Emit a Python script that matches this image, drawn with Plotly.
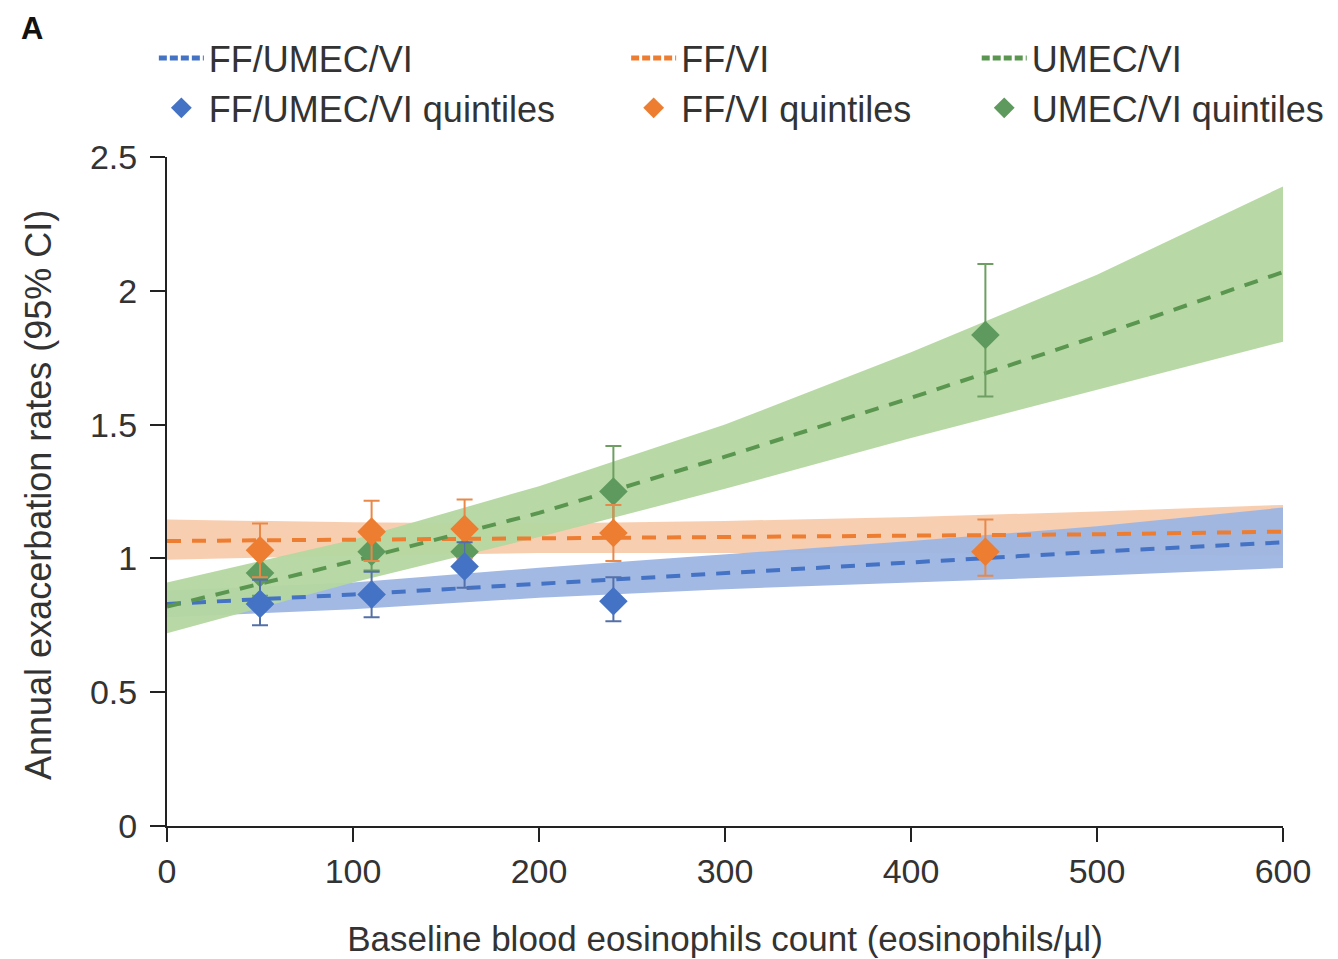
import plotly.graph_objects as go

# ---------------- data ----------------
curve_x = [0, 100, 200, 300, 400, 500, 600]

blue_fit = [0.83, 0.865, 0.905, 0.945, 0.985, 1.025, 1.06]
blue_lo = [0.78, 0.81, 0.853, 0.885, 0.91, 0.935, 0.964]
blue_hi = [0.88, 0.91, 0.965, 1.015, 1.065, 1.12, 1.19]

orange_fit = [1.065, 1.07, 1.075, 1.08, 1.085, 1.09, 1.10]
orange_lo = [0.995, 1.01, 1.02, 1.02, 1.02, 1.015, 1.01]
orange_hi = [1.145, 1.135, 1.13, 1.14, 1.155, 1.175, 1.20]

green_fit = [0.82, 0.99, 1.17, 1.38, 1.60, 1.83, 2.07]
green_lo = [0.72, 0.91, 1.08, 1.26, 1.45, 1.63, 1.81]
green_hi = [0.91, 1.07, 1.27, 1.50, 1.77, 2.06, 2.39]

blue_qx = [50, 110, 160, 240]
blue_qy = [0.83, 0.865, 0.97, 0.84]
blue_qlo = [0.75, 0.78, 0.89, 0.765]
blue_qhi = [0.92, 0.95, 1.06, 0.93]

orange_qx = [50, 110, 160, 240, 440]
orange_qy = [1.03, 1.10, 1.11, 1.095, 1.025]
orange_qlo = [0.93, 0.99, 1.00, 0.99, 0.935]
orange_qhi = [1.13, 1.215, 1.22, 1.20, 1.145]

green_qx = [50, 110, 160, 240, 440]
green_qy = [0.945, 1.025, 1.025, 1.25, 1.835]
green_qlo = [0.86, 0.955, 0.955, 1.10, 1.605]
green_qhi = [1.04, 1.10, 1.10, 1.42, 2.10]

x_ticks = [0, 100, 200, 300, 400, 500, 600]
y_ticks = [0, 0.5, 1, 1.5, 2, 2.5]
y_tick_text = ["0", "0.5", "1", "1.5", "2", "2.5"]

# ---------------- styles ----------------
C_BLUE = "#4472C4"
C_ORANGE = "#ED7D31"
C_GREEN_LINE = "#5B9650"
C_GREEN_MK = "#5E9A5E"
BAND = {
    "orange": "rgba(248,203,173,0.95)",
    "blue": "rgba(157,181,227,0.95)",
    "green": "rgba(180,215,160,0.95)",
}
FONT = "Liberation Sans, Arial, sans-serif"
TXT = "#333333"
DASH = "14px,11px"
LEG_DASH = "8px,3px"

fig = go.Figure()

# confidence bands
for key, lo, hi in [("orange", orange_lo, orange_hi),
                    ("blue", blue_lo, blue_hi),
                    ("green", green_lo, green_hi)]:
    fig.add_trace(go.Scatter(x=curve_x, y=hi, mode="lines", line=dict(width=0),
                             showlegend=False, hoverinfo="skip"))
    fig.add_trace(go.Scatter(x=curve_x, y=lo, mode="lines", line=dict(width=0),
                             fill="tonexty", fillcolor=BAND[key],
                             showlegend=False, hoverinfo="skip"))

# fitted lines (drawn) + legend-only entries with a compact dash pattern
for name, fit, color, leg in [("FF/UMEC/VI", blue_fit, C_BLUE, "legend"),
                              ("FF/VI", orange_fit, C_ORANGE, "legend2"),
                              ("UMEC/VI", green_fit, C_GREEN_LINE, "legend3")]:
    fig.add_trace(go.Scatter(x=curve_x, y=fit, mode="lines", name=name,
                             line=dict(color=color, width=4, dash=DASH),
                             showlegend=False, legendgroup=name))
    fig.add_trace(go.Scatter(x=[None], y=[None], mode="lines", name=name,
                             line=dict(color=color, width=5, dash=LEG_DASH),
                             legend=leg, legendrank=1, legendgroup=name))


def err(y, lo, hi, color):
    return dict(type="data", symmetric=False,
                array=[h - v for v, h in zip(y, hi)],
                arrayminus=[v - l for v, l in zip(y, lo)],
                color=color, thickness=2, width=8)


fig.add_trace(go.Scatter(x=green_qx, y=green_qy, mode="markers", name="UMEC/VI quintiles",
                         marker=dict(symbol="diamond", size=22, color=C_GREEN_MK),
                         error_y=err(green_qy, green_qlo, green_qhi, "#6E9E62"),
                         legend="legend3", legendrank=2))
fig.add_trace(go.Scatter(x=orange_qx, y=orange_qy, mode="markers", name="FF/VI quintiles",
                         marker=dict(symbol="diamond", size=22, color=C_ORANGE),
                         error_y=err(orange_qy, orange_qlo, orange_qhi, "#E8894A"),
                         legend="legend2", legendrank=2))
fig.add_trace(go.Scatter(x=blue_qx, y=blue_qy, mode="markers", name="FF/UMEC/VI quintiles",
                         marker=dict(symbol="diamond", size=22, color=C_BLUE),
                         error_y=err(blue_qy, blue_qlo, blue_qhi, "#5470A8"),
                         legend="legend", legendrank=2))

leg_common = dict(xref="container", yref="container", xanchor="left", yanchor="top",
                  y=0.979, orientation="v", bgcolor="rgba(0,0,0,0)",
                  traceorder="normal",
                  font=dict(family=FONT, size=36, color=TXT),
                  tracegroupgap=0, itemwidth=45)

PW = 1116.0
PH = 669.0

fig.update_layout(
    width=1338, height=959,
    paper_bgcolor="white", plot_bgcolor="white",
    margin=dict(l=159, r=63, t=149, b=141, autoexpand=False),
    font=dict(family=FONT, color=TXT),
    legend=dict(x=0.109, **leg_common),
    legend2=dict(x=0.462, **leg_common),
    legend3=dict(x=0.724, **leg_common),
    xaxis=dict(range=[0, 600], tickvals=x_ticks, ticks="outside", ticklen=14,
               tickwidth=2, tickcolor="#222", showline=True, linecolor="#222",
               linewidth=2, showgrid=False, zeroline=False,
               tickfont=dict(family=FONT, size=34, color=TXT),
               title=dict(text="Baseline blood eosinophils count (eosinophils/µl)",
                          font=dict(family=FONT, size=35, color=TXT), standoff=38)),
    yaxis=dict(range=[0, 2.5], tickvals=y_ticks, ticktext=y_tick_text, ticks="outside",
               ticklen=15, tickwidth=2, tickcolor="#222", showline=True,
               linecolor="#222", linewidth=2, showgrid=False, zeroline=False,
               ticklabelstandoff=6,
               tickfont=dict(family=FONT, size=34, color=TXT)),
    annotations=[
        dict(text="<b>A</b>", xref="paper", yref="paper", showarrow=False,
             x=(32 - 167) / PW, y=1 + (157 - 28) / PH,
             xanchor="center", yanchor="middle",
             font=dict(family=FONT, size=31, color="#111")),
        dict(text="Annual exacerbation rates (95% CI)", xref="paper", yref="paper",
             showarrow=False, textangle=-90,
             x=(38 - 167) / PW, y=(826 - 495) / PH,
             xanchor="center", yanchor="middle",
             font=dict(family=FONT, size=36, color=TXT)),
    ],
)

fig.write_html("out.html")
